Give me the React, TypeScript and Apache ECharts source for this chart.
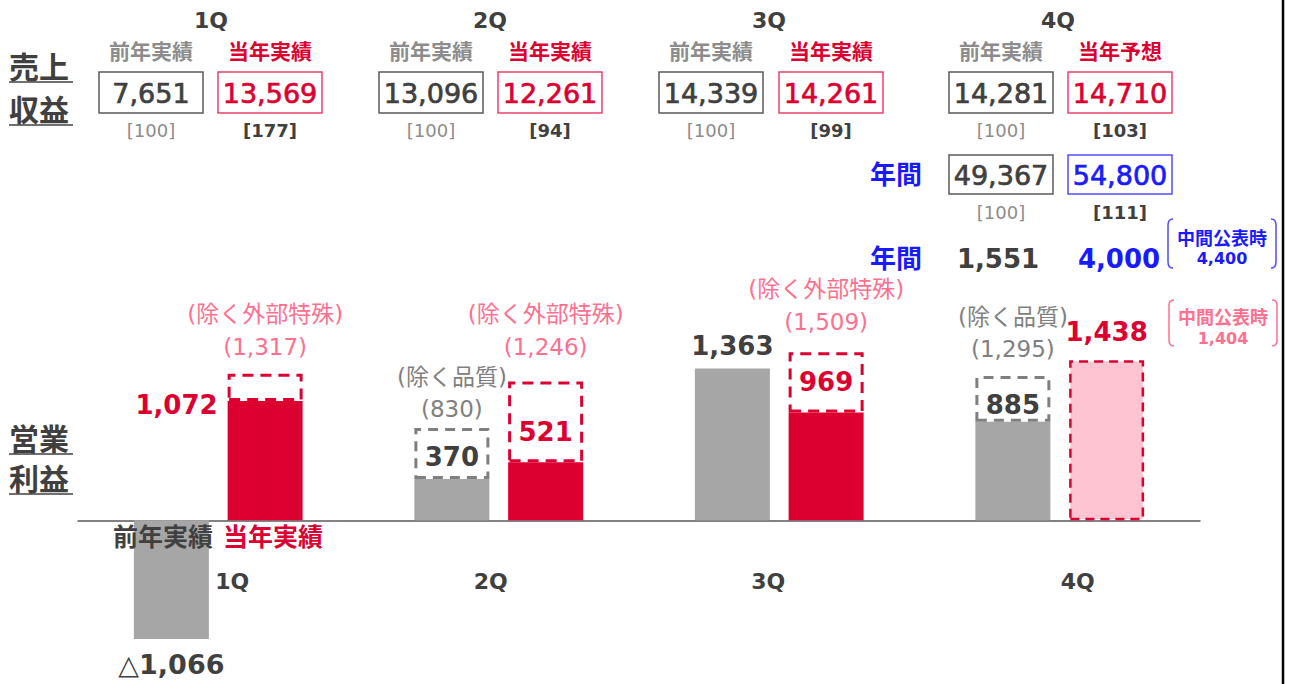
import React, { useEffect, useRef } from "react";
import * as echarts from "echarts";

// ---- data ----
const quarters = ["1Q", "2Q", "3Q", "4Q"];
const prevRevenue = [7651, 13096, 14339, 14281];
const curRevenue = [13569, 12261, 14261, 14710];
const prevRevenueIdx = [100, 100, 100, 100];
const curRevenueIdx = [177, 94, 99, 103];
const curHeaders = ["当年実績", "当年実績", "当年実績", "当年予想"];
const annualRevenue = [49367, 54800];
const annualRevenueIdx = [100, 111];
const annualOpProfit = [1551, 4000];
const annualOpProfitMid = 4400;
const q4OpProfitMid = 1404;

const prevOp = [-1066, 370, 1363, 885];
const curOp = [1072, 521, 969, 1438];
const prevOpExcl: (number | null)[] = [null, 830, null, 1295];
const curOpExcl: (number | null)[] = [1317, 1246, 1509, null];

// ---- style ----
const FONT = "'DejaVu Sans', 'Noto Sans CJK JP', sans-serif";
const RED = "#DC0030";
const PINK = "#FF6F8E";
const DARK = "#404040";
const GRAYTXT = "#8C8C8C";
const BLUE = "#1A1AFF";

const fmt = (v: number) =>
  v < 0 ? "△" + Math.abs(v).toLocaleString("en-US") : v.toLocaleString("en-US");

const grayCols = [151, 431, 711, 1001];
const redCols = [270, 550, 831, 1120];
const qHeaderX = [211, 490, 769, 1058];

function txt(text: string, x: number, y: number, size: number, color: string, weight: any = "normal", align = "center", strokeW = 0) {
  const style: any = {
    text,
    fill: color,
    fontSize: size,
    fontWeight: weight,
    fontFamily: FONT,
    textAlign: align,
    textVerticalAlign: "middle",
    align,
    verticalAlign: "middle",
  };
  if (strokeW > 0) {
    style.stroke = color;
    style.lineWidth = strokeW;
  }
  return { type: "text", x, y, z: 10, style };
}
function box(cx: number, y: number, w: number, h: number, stroke: string) {
  return {
    type: "rect",
    z: 9,
    shape: { x: cx - w / 2, y, width: w, height: h },
    style: { fill: "#fff", stroke, lineWidth: 1.5 },
  };
}
function hline(x1: number, x2: number, y: number, color: string, w = 1.5) {
  return { type: "line", z: 10, shape: { x1, y1: y, x2, y2: y }, style: { stroke: color, lineWidth: w } };
}

echarts.graphic.registerShape(
  "bracket",
  echarts.graphic.extendPath(
    "M 6 0 Q 1 0 1 6 L 1 42 Q 1 48 6 48 M 104 0 Q 109 0 109 6 L 109 42 Q 109 48 104 48",
    {}
  ) as any
);

export default function App() {
  const ref = useRef<HTMLDivElement>(null);
  useEffect(() => {
    if (!ref.current) return;
    const chart = echarts.init(ref.current, null, { renderer: "svg" });

    const graphics: any[] = [];
    // left titles
    graphics.push(txt("売上", 9, 67, 30, DARK, "bold", "left"));
    graphics.push(txt("収益", 9, 110, 30, DARK, "bold", "left"));
    graphics.push(hline(9, 73, 82, DARK));
    graphics.push(hline(9, 73, 125, DARK));
    graphics.push(txt("営業", 9, 439, 30, DARK, "bold", "left"));
    graphics.push(txt("利益", 9, 479, 30, DARK, "bold", "left"));
    graphics.push(hline(9, 73, 454, DARK));
    graphics.push(hline(9, 73, 494, DARK));

    // revenue table
    quarters.forEach((q, i) => {
      graphics.push(txt(q, qHeaderX[i], 20, 22, DARK, "bold"));
      graphics.push(txt("前年実績", grayCols[i], 52, 21, GRAYTXT, "bold"));
      graphics.push(txt(curHeaders[i], redCols[i], 52, 21, RED, "bold"));
      graphics.push(box(grayCols[i], 72, 104, 41, "#595959"));
      graphics.push(box(redCols[i], 72, 104, 41, "#E8446C"));
      graphics.push(txt(fmt(prevRevenue[i]), grayCols[i], 93, 27, DARK, "normal", "center", 0.7));
      graphics.push(txt(fmt(curRevenue[i]), redCols[i], 93, 27, RED, "normal", "center", 0.7));
      graphics.push(txt(`[${prevRevenueIdx[i]}]`, grayCols[i], 130, 18, GRAYTXT));
      graphics.push(txt(`[${curRevenueIdx[i]}]`, redCols[i], 130, 18, DARK, "bold"));
    });
    // annual revenue
    graphics.push(txt("年間", 896, 175, 26, BLUE, "bold"));
    graphics.push(box(grayCols[3], 155, 104, 39, "#595959"));
    graphics.push(box(redCols[3], 155, 104, 39, "#4D4DFF"));
    graphics.push(txt(fmt(annualRevenue[0]), grayCols[3], 175, 27, DARK, "normal", "center", 0.7));
    graphics.push(txt(fmt(annualRevenue[1]), redCols[3], 175, 27, BLUE, "normal", "center", 0.7));
    graphics.push(txt(`[${annualRevenueIdx[0]}]`, grayCols[3], 212, 18, GRAYTXT));
    graphics.push(txt(`[${annualRevenueIdx[1]}]`, redCols[3], 212, 18, DARK, "bold"));
    // annual op profit
    graphics.push(txt("年間", 896, 259, 26, BLUE, "bold"));
    graphics.push(txt(fmt(annualOpProfit[0]), 998, 259, 26, DARK, "bold"));
    graphics.push(txt(fmt(annualOpProfit[1]), 1119, 259, 26, BLUE, "bold"));
    graphics.push({ type: "bracket", x: 1167, y: 219, scaleY: 49 / 48, z: 10, style: { fill: "none", stroke: "#4D4DFF", lineWidth: 1.5 } });
    graphics.push(txt("中間公表時", 1222, 238, 18, BLUE, "bold"));
    graphics.push(txt(fmt(annualOpProfitMid), 1222, 258, 16, BLUE, "bold"));
    // 4Q mid plan
    graphics.push({ type: "bracket", x: 1168, y: 300, scaleY: 46 / 48, z: 10, style: { fill: "none", stroke: PINK, lineWidth: 1.5 } });
    graphics.push(txt("中間公表時", 1223, 317, 18, PINK, "bold"));
    graphics.push(txt(fmt(q4OpProfitMid), 1223, 338, 16, PINK, "bold"));
    // legend under axis
    graphics.push(txt("前年実績", 163, 537, 25, DARK, "bold"));
    graphics.push(txt("当年実績", 273, 537, 25, RED, "bold"));
    // right border
    graphics.push({ type: "line", z: 10, shape: { x1: 1283, y1: 0, x2: 1283, y2: 684 }, style: { stroke: "#000", lineWidth: 2.5 } });

    const prevDist = [12, 9, 10, 4];
    const curDist = [0, 17, 17, 15];
    const prevExclDist = [0, 3, 0, 11];
    const curExclDist = [10, 18, 14, 0];
    const axisPad = [[0, 0, 0, 28], [0, 16, 0, 0], [0, 22, 0, 0], [0, 0, 0, 36]];

    const baseLabel = { fontFamily: FONT, fontSize: 26, fontWeight: "bold" };

    const option: any = {
      animation: false,
      backgroundColor: "#fff",
      grid: { left: 78, right: 90, top: 253, bottom: 30, outerBoundsMode: "none", containLabel: false },
      xAxis: {
        type: "category",
        data: quarters.map((q, i) => ({ value: q, textStyle: { padding: axisPad[i] } })),
        axisLine: { onZero: true, lineStyle: { color: "#595959", width: 1.5 } },
        axisTick: { show: false },
        axisLabel: { margin: -84, fontSize: 22, fontWeight: "bold", color: DARK, fontFamily: FONT },
      },
      yAxis: { type: "value", min: -1200, max: 2400, show: false, splitLine: { show: false } },
      series: [
        {
          type: "bar",
          name: "前年実績",
          stack: "prev",
          barWidth: 75,
          itemStyle: { color: "#A6A6A6" },
          data: prevOp.map((v, i) => ({
            value: v,
            label: {
              show: true,
              position: v < 0 ? "bottom" : "top",
              distance: prevDist[i],
              formatter: fmt(v),
              color: DARK,
              ...baseLabel,
              fontSize: v < 0 ? 27 : 26,
            },
          })),
        },
        {
          type: "bar",
          name: "前年実績(除く品質)",
          stack: "prev",
          barWidth: 75,
          itemStyle: { color: "rgba(0,0,0,0)", borderColor: "#7F7F7F", borderWidth: 3, borderType: [10, 7] },
          data: prevOpExcl.map((v, i) =>
            v == null
              ? "-"
              : {
                  value: v - prevOp[i],
                  label: {
                    show: true,
                    position: "top",
                    distance: prevExclDist[i],
                    formatter: `(除く品質)\n(${fmt(v)})`,
                    color: "#808080",
                    fontFamily: FONT,
                    fontSize: 23,
                    lineHeight: 32,
                  },
                }
          ),
        },
        {
          type: "bar",
          name: "当年実績",
          stack: "cur",
          barWidth: 75,
          itemStyle: { color: RED },
          data: curOp.map((v, i) => ({
            value: v,
            itemStyle:
              i === 3
                ? { color: "#FFC4D1", borderColor: RED, borderWidth: 2.5, borderType: [9, 6] }
                : undefined,
            label:
              i === 0
                ? { show: true, position: [-10, 4], align: "right", verticalAlign: "middle", formatter: fmt(v), color: RED, ...baseLabel }
                : { show: true, position: "top", distance: curDist[i], formatter: fmt(v), color: RED, ...baseLabel },
          })),
        },
        {
          type: "bar",
          name: "当年実績(除く外部特殊)",
          stack: "cur",
          barWidth: 75,
          barGap: "25%",
          itemStyle: { color: "rgba(0,0,0,0)", borderColor: RED, borderWidth: 3, borderType: [11, 7] },
          data: curOpExcl.map((v, i) =>
            v == null
              ? "-"
              : {
                  value: v - curOp[i],
                  label: {
                    show: true,
                    position: "top",
                    distance: curExclDist[i],
                    formatter: `(除く外部特殊)\n(${fmt(v)})`,
                    color: PINK,
                    fontFamily: FONT,
                    fontSize: 23,
                    lineHeight: 33,
                  },
                }
          ),
        },
      ],
      graphic: graphics,
    };
    chart.setOption(option);
    return () => chart.dispose();
  }, []);
  return (
    <div
      ref={ref}
      style={{ position: "fixed", left: 0, top: 0, width: 1290, height: 684, background: "#fff" }}
    />
  );
}
